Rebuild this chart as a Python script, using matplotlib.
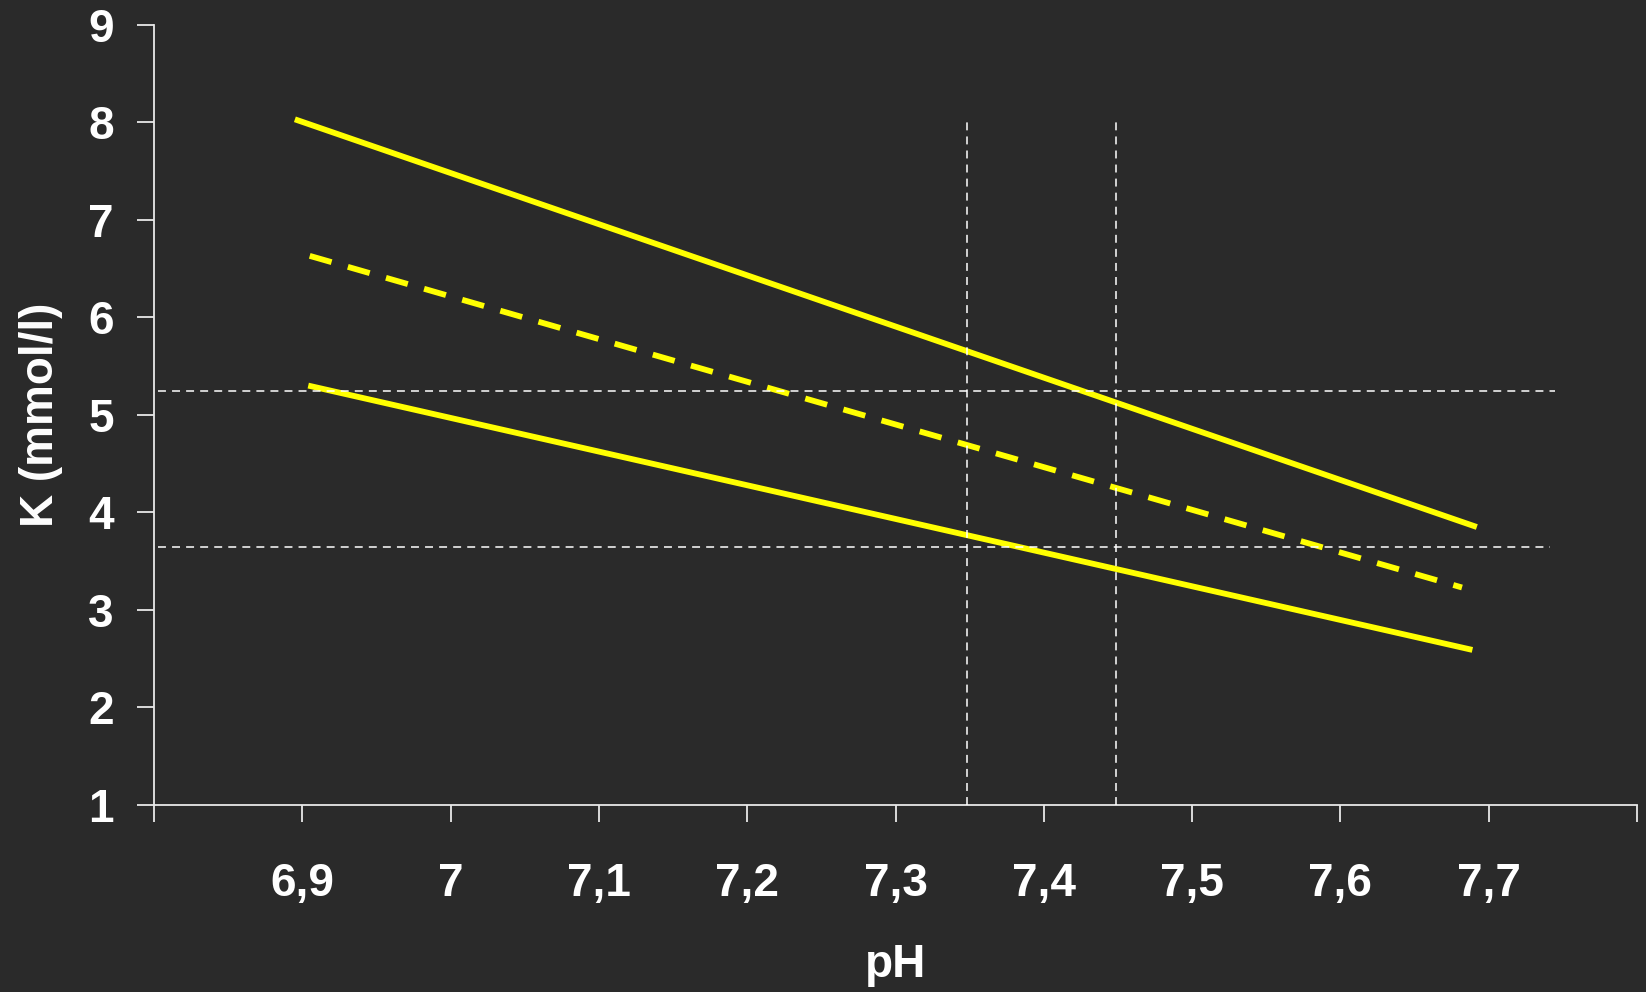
import matplotlib
matplotlib.use("Agg")
import matplotlib.pyplot as plt
from matplotlib.ticker import FixedLocator

# ---- data ----
x_ticks = [6.8, 6.9, 7.0, 7.1, 7.2, 7.3, 7.4, 7.5, 7.6, 7.7, 7.8]
x_tick_labels = ["", "6,9", "7", "7,1", "7,2", "7,3", "7,4", "7,5", "7,6", "7,7", ""]
y_ticks = [1, 2, 3, 4, 5, 6, 7, 8, 9]

upper_ph = [6.895, 7.692]
upper_k = [8.03, 3.85]
mid_ph = [6.905, 7.682]
mid_k = [6.63, 3.23]
lower_ph = [6.904, 7.689]
lower_k = [5.30, 2.59]

ref_k = [5.24, 3.645]
ref_k_end = [7.745, 7.741]
ref_ph = [7.348, 7.449]
ref_ph_top = [8.0, 8.0]

BG = "#2a2a2a"
YEL = "#ffff00"
FG = "#ffffff"

plt.rcParams['font.family'] = ['Liberation Sans', 'DejaVu Sans']

fig = plt.figure(figsize=(16.46, 9.92), dpi=100, facecolor=BG)
ax = fig.add_axes([154/1646, 1-805/992, (1637-154)/1646, (805-24.7)/992])
ax.set_facecolor(BG)

ax.plot(upper_ph, upper_k, color=YEL, lw=4.2, solid_capstyle='butt', zorder=3)
ax.plot(lower_ph, lower_k, color=YEL, lw=4.2, solid_capstyle='butt', zorder=3)
ax.plot(mid_ph, mid_k, color=YEL, lw=4.2, dashes=(3.9, 2.9), dash_capstyle='butt', zorder=3)

for k, xe in zip(ref_k, ref_k_end):
    ax.plot([6.803, xe], [k, k], color=FG, lw=1.1, dashes=(5.2, 4.0), zorder=4)
for p, yt in zip(ref_ph, ref_ph_top):
    ax.plot([p, p], [1, yt], color=FG, lw=1.1, dashes=(5.2, 4.0), zorder=4)

ax.set_xlim(6.8, 7.8)
ax.set_ylim(1, 9)
ax.xaxis.set_major_locator(FixedLocator(x_ticks))
ax.set_xticklabels(x_tick_labels)
ax.yaxis.set_major_locator(FixedLocator(y_ticks))
ax.set_yticklabels([str(v) for v in y_ticks])

for s in ['top', 'right']:
    ax.spines[s].set_visible(False)
for s in ['left', 'bottom']:
    ax.spines[s].set_color("#e8e8e8")
    ax.spines[s].set_linewidth(1.3)

ax.tick_params(axis='both', direction='out', length=12, width=1.3, color="#e8e8e8",
               labelcolor=FG, labelsize=33)
ax.tick_params(axis='x', pad=29)
ax.tick_params(axis='y', pad=17)
for lab in ax.get_xticklabels() + ax.get_yticklabels():
    lab.set_fontweight('bold')

ax.set_xlabel("pH", fontsize=33, fontweight='bold', color=FG, labelpad=27)
ax.set_ylabel("K (mmol/l)", fontsize=33, fontweight='bold', color=FG, labelpad=18)

fig.savefig("out.png", dpi=100, facecolor=BG)
